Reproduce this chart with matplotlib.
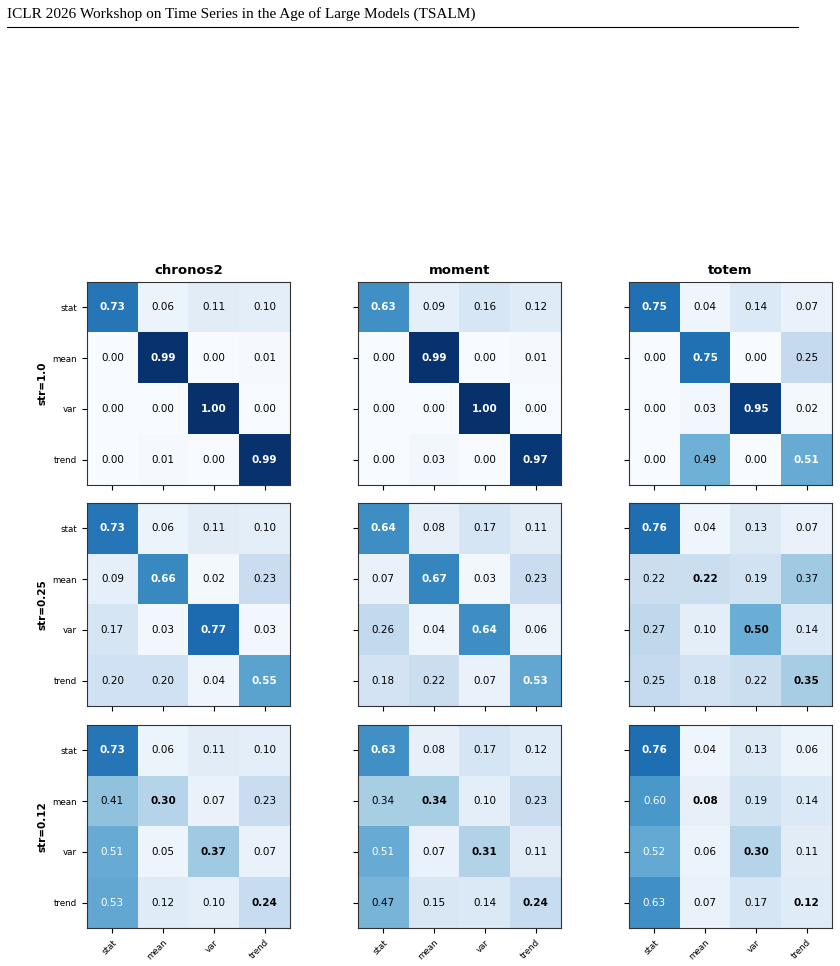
import numpy as np
import matplotlib.pyplot as plt
from matplotlib.lines import Line2D

classes = ['stat', 'mean', 'var', 'trend']
models = ['chronos2', 'moment', 'totem']
strengths = ['str=1.0', 'str=0.25', 'str=0.12']

# confusion matrices, rows = true class, cols = predicted
chronos2_s100 = [[0.73, 0.06, 0.11, 0.10], [0.00, 0.99, 0.00, 0.01],
                 [0.00, 0.00, 1.00, 0.00], [0.00, 0.01, 0.00, 0.99]]
moment_s100 = [[0.63, 0.09, 0.16, 0.12], [0.00, 0.99, 0.00, 0.01],
               [0.00, 0.00, 1.00, 0.00], [0.00, 0.03, 0.00, 0.97]]
totem_s100 = [[0.75, 0.04, 0.14, 0.07], [0.00, 0.75, 0.00, 0.25],
              [0.00, 0.03, 0.95, 0.02], [0.00, 0.49, 0.00, 0.51]]

chronos2_s025 = [[0.73, 0.06, 0.11, 0.10], [0.09, 0.66, 0.02, 0.23],
                 [0.17, 0.03, 0.77, 0.03], [0.20, 0.20, 0.04, 0.55]]
moment_s025 = [[0.64, 0.08, 0.17, 0.11], [0.07, 0.67, 0.03, 0.23],
               [0.26, 0.04, 0.64, 0.06], [0.18, 0.22, 0.07, 0.53]]
totem_s025 = [[0.76, 0.04, 0.13, 0.07], [0.22, 0.22, 0.19, 0.37],
              [0.27, 0.10, 0.50, 0.14], [0.25, 0.18, 0.22, 0.35]]

chronos2_s012 = [[0.73, 0.06, 0.11, 0.10], [0.41, 0.30, 0.07, 0.23],
                 [0.51, 0.05, 0.37, 0.07], [0.53, 0.12, 0.10, 0.24]]
moment_s012 = [[0.63, 0.08, 0.17, 0.12], [0.34, 0.34, 0.10, 0.23],
               [0.51, 0.07, 0.31, 0.11], [0.47, 0.15, 0.14, 0.24]]
totem_s012 = [[0.76, 0.04, 0.13, 0.06], [0.60, 0.08, 0.19, 0.14],
              [0.52, 0.06, 0.30, 0.11], [0.63, 0.07, 0.17, 0.12]]

grid = [[chronos2_s100, moment_s100, totem_s100],
        [chronos2_s025, moment_s025, totem_s025],
        [chronos2_s012, moment_s012, totem_s012]]

W, H = 840, 966
fig = plt.figure(figsize=(W / 100, H / 100), dpi=100)

# page header
fig.text(7 / W, 1 - 14 / H, 'ICLR 2026 Workshop on Time Series in the Age of Large Models (TSALM)',
         family='Liberation Serif', fontsize=11, va='center', ha='left')
fig.add_artist(Line2D([7 / W, 798 / W], [1 - 27 / H, 1 - 27 / H],
                      transform=fig.transFigure, color='black', lw=0.8))

col_x = [87, 358, 629]
row_y = [282, 503, 725]
size = 203

for r in range(3):
    for c in range(3):
        ax = fig.add_axes([col_x[c] / W, 1 - (row_y[r] + size) / H, size / W, size / H])
        cm = np.array(grid[r][c])
        ax.imshow(cm, cmap='Blues', vmin=0, vmax=1, aspect='auto')
        for i in range(4):
            for j in range(4):
                v = cm[i, j]
                ax.text(j, i, f'{v:.2f}', ha='center', va='center', fontsize=7.5,
                        color='white' if v > 0.5 else 'black',
                        fontweight='bold' if i == j else 'normal')
        ax.set_xticks(range(4))
        ax.set_yticks(range(4))
        if c == 0:
            ax.set_yticklabels(classes, fontsize=6.3)
            ax.set_ylabel(strengths[r], fontsize=7.5, fontweight='bold')
        else:
            ax.set_yticklabels([])
        if r == 2:
            ax.set_xticklabels(classes, fontsize=6.3, rotation=45, ha='right', rotation_mode='anchor')
        else:
            ax.set_xticklabels([])
        if r == 0:
            ax.set_title(models[c], fontsize=9.5, fontweight='bold')
        for s in ax.spines.values():
            s.set_color('#333333')

plt.savefig('out.png', dpi=100)
